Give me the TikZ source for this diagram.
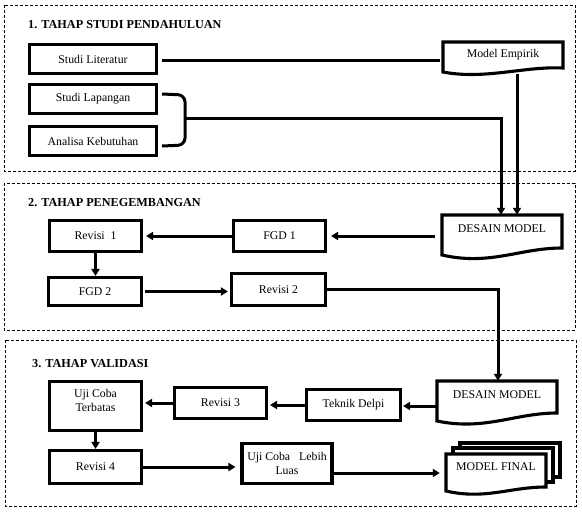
\documentclass[tikz,border=0pt]{standalone}
\usepackage{fontspec}
\setmainfont{Liberation Serif}
\usetikzlibrary{arrows.meta,calc}
\begin{document}
\begin{tikzpicture}[x=1pt,y=-1pt,
  sect/.style={draw, line width=0.8pt, dash pattern=on 3pt off 2pt},
  box/.style={draw, line width=3.1pt, rectangle, inner sep=2pt, align=center,
    font=\fontsize{11.8}{14}\selectfont},
  plainbox/.style={draw, line width=3.1pt, rectangle, inner sep=0pt},
  txt/.style={inner sep=0pt, align=center, font=\fontsize{11.8}{14}\selectfont},
  doc/.style={draw=none, inner sep=0pt, align=center, font=\fontsize{11.8}{14}\selectfont},
  docline/.style={draw, line width=3.1pt, fill=white, line join=miter},
  titletext/.style={anchor=west, inner sep=0pt, font=\bfseries\fontsize{12.2}{14}\selectfont},
  conn/.style={line width=3pt},
  arr/.style={conn, -{Triangle[length=7pt,width=8pt]}}
]
\useasboundingbox (0,0) rectangle (582,512);

% sections
\draw[sect] (4,5) rectangle (575,171);
\draw[sect] (4,183) rectangle (575,330);
\draw[sect] (5,340) rectangle (576,506);

\node[titletext] (t1) at (28,25) {1. TAHAP STUDI PENDAHULUAN};
\node[titletext] (t2) at (28,203) {2. TAHAP PENEGEMBANGAN};
\node[titletext] (t3) at (32,364) {3. TAHAP VALIDASI};

% ---------- section 1
\node[box, minimum width=127pt, minimum height=29pt] (lit) at (93,59) {Studi Literatur};
\node[box, minimum width=127pt, minimum height=29pt] (lap) at (93,99) {Studi Lapangan};
\node[box, minimum width=127pt, minimum height=29pt] (ana) at (93,141) {Analisa Kebutuhan};

\draw[docline] (443,42) -- (563,42) -- (563,68) .. controls (525,66) and (485,80) .. (443,72) -- cycle;
\node[doc, minimum width=120pt, minimum height=26pt] (me) at (503,55) {Model Empirik};
\coordinate (meb) at (517,74);

\draw[conn, shorten <=4pt, shorten >=3pt] ([yshift=-1pt]lit.east) -- ([yshift=-1pt]lit.east -| me.west);
\draw[conn, rounded corners=7pt] (162,94) -- (185,95) -- (185,145) -- (162,146);
\coordinate (bj) at (185,118);

% ---------- section 2
\draw[docline] (442,215) -- (562,215) -- (562,248) .. controls (520,248) and (490,266) .. (442,255) -- cycle;
\node[doc, minimum width=120pt, minimum height=28pt] (dm1) at (502,229) {DESAIN MODEL};

\draw[arr] (bj) -| ([xshift=-1pt]dm1.north);
\draw[arr] (meb) -- (meb |- dm1.north);

\node[box, minimum width=92pt, minimum height=31pt] (fgd1) at (279.5,236) {FGD 1};
\node[box, minimum width=92pt, minimum height=31pt] (rev1) at (95.5,236) {Revisi\ \ 1};
\node[box, minimum width=93pt, minimum height=28pt] (fgd2) at (95,291.5) {FGD 2};
\node[box, minimum width=94pt, minimum height=32pt] (rev2) at (278.5,289.5) {Revisi 2};

\draw[arr, shorten >=4pt] ([xshift=-7pt]dm1.west |- fgd1.east) -- (fgd1.east);
\draw[arr, shorten >=3pt] (fgd1.west) -- (rev1.east);
\draw[arr] (rev1.south) -- (rev1.south |- fgd2.north);
\draw[arr, shorten <=2pt, shorten >=2pt] (fgd2.east) -- (fgd2.east -| rev2.west);

% ---------- section 3
\draw[docline] (437,381) -- (557,381) -- (557,413) .. controls (515,413) and (485,431) .. (437,421) -- cycle;
\node[doc, minimum width=120pt, minimum height=28pt] (dm2) at (497,395) {DESAIN MODEL};

\draw[arr] (rev2.east) -| ([xshift=1pt]dm2.north);

\node[plainbox, minimum width=92pt, minimum height=49pt] (uct) at (95.5,406) {};
\node[txt] (uctt) at (95.5,400) {Uji Coba\\Terbatas};
\node[box, minimum width=92pt, minimum height=31pt] (rev3) at (220.5,403) {Revisi 3};
\node[box, minimum width=94pt, minimum height=31pt] (tdel) at (353.5,405) {Teknik Delpi};
\node[box, minimum width=92pt, minimum height=33pt] (rev4) at (95.5,467) {Revisi 4};
\node[box, minimum width=90pt, minimum height=40pt] (ucl) at (287,463.5) {Uji Coba\hspace{9pt}Lebih\\Luas};

% MODEL FINAL (multi document)
\draw[docline] (460,443) rectangle (560,477);
\draw[docline] (453,448) rectangle (553,482);
\draw[docline] (446,454) -- (546,454) -- (546,487) .. controls (510,487) and (485,500) .. (446,491) -- cycle;
\node[doc, minimum width=100pt, minimum height=26pt] (mf) at (496,467) {MODEL FINAL};

\draw[arr, shorten >=1pt] ([yshift=-11pt]dm2.west) -- ([yshift=-11pt]dm2.west -| tdel.east);
\draw[arr, shorten >=2pt] (tdel.west) -- (tdel.west -| rev3.east);
\draw[arr, shorten >=2pt] (rev3.west) -- (rev3.west -| uct.east);
\draw[arr] (uct.south) -- (uct.south |- rev4.north);
\draw[arr, shorten >=5pt] (rev4.east) -- (rev4.east -| ucl.west);
\draw[arr, shorten >=6pt] ([yshift=-9.5pt]ucl.east) -- ([yshift=-9.5pt]ucl.east -| mf.west);
\end{tikzpicture}
\end{document}
